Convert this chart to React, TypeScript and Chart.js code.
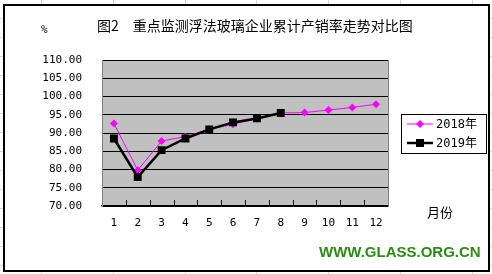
import React, { useEffect, useRef } from "react";
import { Chart, registerables } from "chart.js";

Chart.register(...registerables);

const months = ["1", "2", "3", "4", "5", "6", "7", "8", "9", "10", "11", "12"];
const rate2018 = [92.6, 79.8, 87.8, 89.0, 91.0, 92.4, 94.0, 95.5, 95.6, 96.3, 97.0, 97.9];
const rate2019 = [88.5, 77.9, 85.3, 88.5, 91.0, 92.9, 94.0, 95.5];
const seriesNames = ["2018年", "2019年"];
const yMin = 70;
const yMax = 110;
const yStep = 5;

const title = "图2\u3000重点监测浮法玻璃企业累计产销率走势对比图";

const W = 492;
const H = 274;

const plotDecor = {
  id: "plotDecor",
  beforeDraw(chart: any) {
    const { ctx, chartArea: a } = chart;
    ctx.save();
    ctx.fillStyle = "#C0C0C0";
    ctx.fillRect(a.left, a.top, a.right - a.left, a.bottom - a.top);
    ctx.restore();
  },
  beforeDatasetsDraw(chart: any) {
    const { ctx, chartArea: a } = chart;
    const xs = chart.scales.x;
    ctx.save();
    // right border
    ctx.strokeStyle = "#808080";
    ctx.lineWidth = 1;
    ctx.beginPath();
    ctx.moveTo(Math.round(a.right) + 0.5, a.top);
    ctx.lineTo(Math.round(a.right) + 0.5, a.bottom);
    ctx.stroke();
    // inward tick marks at category boundaries
    ctx.strokeStyle = "#000";
    const n = months.length;
    const half = (xs.getPixelForValue(1) - xs.getPixelForValue(0)) / 2;
    for (let i = 1; i < n; i++) {
      const x = Math.round(xs.getPixelForValue(i) - half) + 0.5;
      ctx.beginPath();
      ctx.moveTo(x, a.bottom);
      ctx.lineTo(x, a.bottom - 6);
      ctx.stroke();
    }
    ctx.restore();
  },
  afterDraw(chart: any) {
    const { ctx } = chart;
    ctx.save();
    // legend box
    const bx = 401, by = 114, bw = 85, bh = 39;
    ctx.fillStyle = "#fff";
    ctx.fillRect(bx, by, bw, bh);
    ctx.strokeStyle = "#000";
    ctx.lineWidth = 1;
    ctx.strokeRect(bx + 0.5, by + 0.5, bw, bh);
    const rows = [
      { y: 124, color: "#FF00FF", lw: 1, style: "diamond" },
      { y: 143, color: "#000000", lw: 2.5, style: "square" },
    ];
    rows.forEach((r, i) => {
      ctx.strokeStyle = r.color;
      ctx.fillStyle = r.color;
      ctx.lineWidth = r.lw;
      ctx.beginPath();
      ctx.moveTo(407, r.y);
      ctx.lineTo(433, r.y);
      ctx.stroke();
      const cx = 420;
      ctx.beginPath();
      if (r.style === "diamond") {
        ctx.moveTo(cx, r.y - 4);
        ctx.lineTo(cx + 4, r.y);
        ctx.lineTo(cx, r.y + 4);
        ctx.lineTo(cx - 4, r.y);
        ctx.closePath();
      } else {
        ctx.rect(cx - 4, r.y - 4, 8, 8);
      }
      ctx.fill();
      ctx.fillStyle = "#000";
      ctx.font = '12px "DejaVu Sans Mono", "Noto Sans CJK SC"';
      ctx.textBaseline = "middle";
      ctx.textAlign = "left";
      ctx.fillText(seriesNames[i], 436, r.y + 1);
    });
    ctx.restore();
  },
};

function ChartCanvas() {
  const ref = useRef<HTMLCanvasElement | null>(null);
  useEffect(() => {
    if (!ref.current) return;
    const chart = new Chart(ref.current, {
      type: "line",
      data: {
        labels: months,
        datasets: [
          {
            label: seriesNames[0],
            data: rate2018,
            borderColor: "#FF00FF",
            backgroundColor: "#FF00FF",
            borderWidth: 1,
            pointStyle: "rectRot",
            pointRadius: 4,
            pointBorderWidth: 0,
            tension: 0,
            order: 1,
          },
          {
            label: seriesNames[1],
            data: rate2019,
            borderColor: "#000000",
            backgroundColor: "#000000",
            borderWidth: 2.5,
            pointStyle: "rect",
            pointRadius: 5.6,
            pointBorderWidth: 0,
            tension: 0,
            order: 0,
          },
        ],
      },
      options: {
        responsive: false,
        animation: false,
        devicePixelRatio: 1,
        layout: { padding: { left: 0, right: 104, top: 60, bottom: 0 } },
        plugins: {
          legend: { display: false },
          tooltip: { enabled: false },
          title: { display: false },
        },
        scales: {
          x: {
            type: "category",
            offset: true,
            grid: { display: false, drawTicks: false },
            border: { display: true, color: "#000", width: 1.5 },
            ticks: {
              color: "#000",
              font: { family: '"DejaVu Sans Mono"', size: 11 },
              padding: 11,
              maxRotation: 0,
              autoSkip: false,
            },
            afterFit(s: any) {
              s.height = 68;
            },
          },
          y: {
            min: yMin,
            max: yMax,
            grid: { color: "#000", lineWidth: 1, drawTicks: false },
            border: { display: true, color: "#808080", width: 1 },
            ticks: {
              stepSize: yStep,
              color: "#000",
              font: { family: '"DejaVu Sans Mono"', size: 11 },
              padding: 20,
              callback: (v: any) => Number(v).toFixed(2),
            },
            afterFit(s: any) {
              s.width = 102;
            },
          },
        },
      },
      plugins: [plotDecor],
    });
    return () => chart.destroy();
  }, []);
  return (
    <canvas
      ref={ref}
      width={W}
      height={H}
      style={{ position: "absolute", left: 0, top: 0, width: W, height: H }}
    />
  );
}

export default function App() {
  const bg =
    "repeating-linear-gradient(to bottom, transparent 0px, transparent 18px, #d8d8d8 18px, #d8d8d8 19px)," +
    "repeating-linear-gradient(to right, transparent 0px, transparent 41px, #d8d8d8 41px, #d8d8d8 42px, transparent 42px, transparent 71.8px)";
  return (
    <div
      style={{
        position: "absolute",
        left: 0,
        top: 0,
        width: W,
        height: H,
        background: "#fff",
        overflow: "hidden",
      }}
    >
      <div style={{ position: "absolute", inset: 0, backgroundImage: bg }} />
      <div
        style={{
          position: "absolute",
          left: 3,
          top: 4,
          width: 487,
          height: 268,
          border: "2px solid #000",
          boxSizing: "border-box",
          background: "#fff",
        }}
      />
      <ChartCanvas />
      <div
        style={{
          position: "absolute",
          left: 97,
          top: 17,
          fontFamily: '"Noto Sans CJK SC"',
          fontSize: 14,
          lineHeight: "16px",
          whiteSpace: "pre",
          color: "#000",
        }}
      >
        {title}
      </div>
      <div
        style={{
          position: "absolute",
          left: 41,
          top: 23,
          fontFamily: '"DejaVu Sans Mono"',
          fontSize: 11,
          lineHeight: "14px",
          color: "#000",
        }}
      >
        %
      </div>
      <div
        style={{
          position: "absolute",
          left: 427,
          top: 204,
          fontFamily: '"Noto Sans CJK SC"',
          fontSize: 13,
          lineHeight: "16px",
          color: "#000",
        }}
      >
        月份
      </div>
      <div
        style={{
          position: "absolute",
          left: 319,
          top: 243,
          fontFamily: '"Liberation Sans", Arial, sans-serif',
          fontWeight: "bold",
          fontSize: 15,
          lineHeight: "18px",
          color: "#2a8c14",
          whiteSpace: "pre",
        }}
      >
        WWW.GLASS.ORG.CN
      </div>
    </div>
  );
}
